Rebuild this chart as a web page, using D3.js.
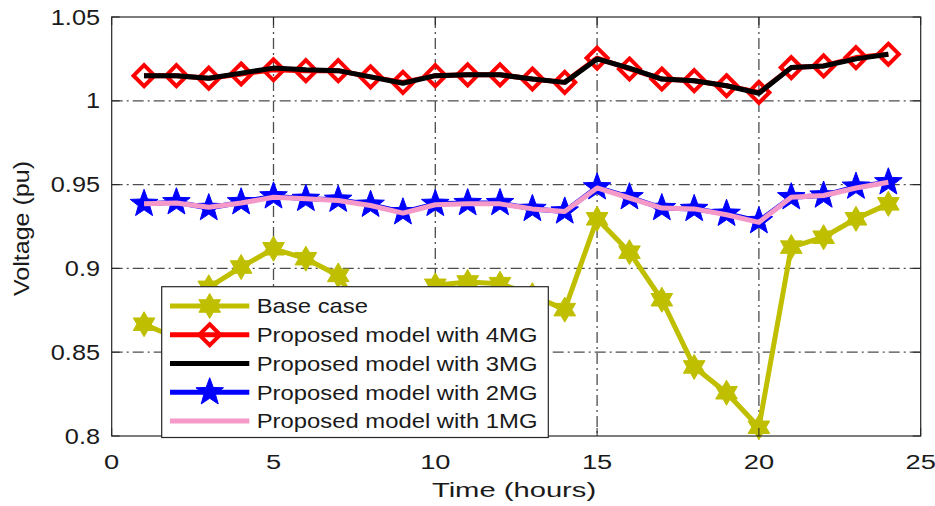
<!DOCTYPE html>
<html lang="en">
<head>
<meta charset="UTF-8">
<script src="https://d3js.org/d3.v7.min.js"></script>
<style>
    body { margin: 0; background: #fff; }
    svg { display: block; }
    text { font-family: "Liberation Sans", Arial, sans-serif; fill: #1a1a1a; }
</style>
<title>Voltage</title>
</head>
<body>
<script>
    // data
    var hours = d3.range(1, 25);
    var baseCase = [0.8667, 0.8585, 0.8887, 0.9008, 0.9117, 0.9058, 0.8958, 0.865, 0.86, 0.8899, 0.8919, 0.8909,
                    0.884, 0.8754, 0.9296, 0.9097, 0.8813, 0.8412, 0.8258, 0.8052, 0.9127, 0.9186, 0.9296, 0.9385];
    var model4MG = [1.015, 1.015, 1.0135, 1.016, 1.0185, 1.018, 1.018, 1.0143, 1.011, 1.015, 1.0155, 1.0155,
                    1.013, 1.011, 1.0255, 1.019, 1.013, 1.012, 1.009, 1.005, 1.0198, 1.0208, 1.0258, 1.0278];
    var model3MG = [1.015, 1.015, 1.0135, 1.0165, 1.0195, 1.0185, 1.018, 1.0143, 1.0105, 1.015, 1.0155, 1.0155,
                    1.013, 1.011, 1.025, 1.0195, 1.013, 1.012, 1.009, 1.0045, 1.0198, 1.0208, 1.025, 1.0278];
    var model2MG = [0.9385, 0.9395, 0.936, 0.9395, 0.943, 0.9415, 0.941, 0.938, 0.9335, 0.9385, 0.939, 0.939,
                    0.9355, 0.934, 0.9484, 0.9425, 0.936, 0.9355, 0.9326, 0.9282, 0.9425, 0.9435, 0.9488, 0.9514];
    var model1MG = [0.9385, 0.939, 0.9365, 0.939, 0.9425, 0.9415, 0.9405, 0.9375, 0.933, 0.938, 0.9385, 0.9385,
                    0.9355, 0.934, 0.948, 0.942, 0.936, 0.9355, 0.932, 0.9275, 0.9425, 0.9435, 0.948, 0.9514];
    var xTicks = [0, 5, 10, 15, 20, 25];
    var yTicks = [0.8, 0.85, 0.9, 0.95, 1, 1.05];
    var seriesNames = ["Base case", "Proposed model with 4MG", "Proposed model with 3MG",
                       "Proposed model with 2MG", "Proposed model with 1MG"];

    var width = 935, height = 506;
    var plotL = 111.7, plotR = 920.7, plotT = 17, plotB = 436;

    var svg = d3.select("body").append("svg")
        .attr("width", width)
        .attr("height", height);

    var x = d3.scaleLinear().domain([0, 25]).range([plotL, plotR]);
    var y = d3.scaleLinear().domain([0.8, 1.05]).range([plotB, plotT]);

    // star shaped path, points = number of spikes
    function starPath(points, rOut, rIn) {
        var p = d3.path();
        for (var i = 0; i < points * 2; i++) {
            var r = i % 2 === 0 ? rOut : rIn;
            var a = -Math.PI / 2 + i * Math.PI / points;
            if (i === 0) p.moveTo(r * Math.cos(a), r * Math.sin(a));
            else p.lineTo(r * Math.cos(a), r * Math.sin(a));
        }
        p.closePath();
        return p.toString();
    }
    function diamondPath(r) {
        return "M0," + (-r) + "L" + r + ",0L0," + r + "L" + (-r) + ",0Z";
    }

    var series = [
        { name: seriesNames[0], values: baseCase, color: "#bfbf00", width: 5, marker: starPath(6, 12.5, 7.2), fill: "#bfbf00", stroke: "#bfbf00", mw: 1 },
        { name: seriesNames[1], values: model4MG, color: "#ff0000", width: 5, marker: diamondPath(10.5), fill: "none", stroke: "#ff0000", mw: 4 },
        { name: seriesNames[2], values: model3MG, color: "#000000", width: 5, marker: null },
        { name: seriesNames[3], values: model2MG, color: "#0000ff", width: 5, marker: starPath(5, 14.5, 6), fill: "#0000ff", stroke: "#0000ff", mw: 1 },
        { name: seriesNames[4], values: model1MG, color: "#f59ac8", width: 5, marker: null }
    ];

    // grid
    var grid = svg.append("g");
    grid.selectAll(".gx")
        .data(xTicks.slice(1, -1))
        .enter().append("line")
        .attr("x1", function (d) { return x(d); })
        .attr("x2", function (d) { return x(d); })
        .attr("y1", plotT).attr("y2", plotB)
        .attr("stroke", "#4d4d4d").attr("stroke-width", 1.3)
        .attr("stroke-dasharray", "11,4,2,4");
    grid.selectAll(".gy")
        .data(yTicks.slice(1, -1))
        .enter().append("line")
        .attr("y1", function (d) { return y(d); })
        .attr("y2", function (d) { return y(d); })
        .attr("x1", plotL).attr("x2", plotR)
        .attr("stroke", "#4d4d4d").attr("stroke-width", 1.3)
        .attr("stroke-dasharray", "11,4,2,4");

    // lines and markers
    var line = d3.line()
        .x(function (d, i) { return x(hours[i]); })
        .y(function (d) { return y(d); });

    series.forEach(function (s) {
        svg.append("path")
            .attr("d", line(s.values))
            .attr("fill", "none")
            .attr("stroke", s.color)
            .attr("stroke-width", s.width)
            .attr("stroke-linejoin", "round");
        if (s.marker) {
            svg.append("g").selectAll("path")
                .data(s.values)
                .enter().append("path")
                .attr("d", s.marker)
                .attr("transform", function (d, i) { return "translate(" + x(hours[i]) + "," + y(d) + ")"; })
                .attr("fill", s.fill)
                .attr("stroke", s.stroke)
                .attr("stroke-width", s.mw)
                .attr("stroke-linejoin", "miter");
        }
    });

    // frame and inner ticks
    svg.append("rect")
        .attr("x", plotL).attr("y", plotT)
        .attr("width", plotR - plotL).attr("height", plotB - plotT)
        .attr("fill", "none").attr("stroke", "#262626").attr("stroke-width", 1.2);

    var ticks = svg.append("g").attr("stroke", "#262626").attr("stroke-width", 1);
    xTicks.forEach(function (t) {
        ticks.append("line").attr("x1", x(t)).attr("x2", x(t)).attr("y1", plotB).attr("y2", plotB - 8);
        ticks.append("line").attr("x1", x(t)).attr("x2", x(t)).attr("y1", plotT).attr("y2", plotT + 8);
    });
    yTicks.forEach(function (t) {
        ticks.append("line").attr("y1", y(t)).attr("y2", y(t)).attr("x1", plotL).attr("x2", plotL + 8);
        ticks.append("line").attr("y1", y(t)).attr("y2", y(t)).attr("x1", plotR).attr("x2", plotR - 8);
    });

    // text with horizontal stretch to match the wide lettering
    function label(parent, tx, ty, str, size, sx, anchor, rotate) {
        return parent.append("text")
            .attr("transform", "translate(" + tx + "," + ty + ")" + (rotate ? " rotate(" + rotate + ")" : "") + " scale(" + sx + ",1)")
            .attr("font-size", size)
            .attr("text-anchor", anchor)
            .text(str);
    }

    yTicks.forEach(function (t) {
        label(svg, 100, y(t) + 7.5, d3.format("")(t), 22, 1.15, "end");
    });
    xTicks.forEach(function (t) {
        label(svg, x(t), 469, t, 21, 1.3, "middle");
    });
    label(svg, 514, 497, "Time (hours)", 21, 1.39, "middle");
    label(svg, 29, (plotT + plotB) / 2 + 2, "Voltage (pu)", 22, 1.14, "middle", -90);

    // legend
    var legend = svg.append("g");
    legend.append("rect")
        .attr("x", 161.7).attr("y", 286.7)
        .attr("width", 386.6).attr("height", 150.8)
        .attr("fill", "#fff").attr("stroke", "#262626").attr("stroke-width", 1.2);

    series.forEach(function (s, i) {
        var cy = 306 + i * 28.75;
        legend.append("line")
            .attr("x1", 170).attr("x2", 249.3)
            .attr("y1", cy).attr("y2", cy)
            .attr("stroke", s.color).attr("stroke-width", s.width);
        if (s.marker) {
            legend.append("path")
                .attr("d", s.marker)
                .attr("transform", "translate(209.7," + cy + ")")
                .attr("fill", s.fill)
                .attr("stroke", s.stroke)
                .attr("stroke-width", s.mw);
        }
        label(legend, 256.7, cy + 7.3, s.name, 20.5, 1.163, "start");
    });
</script>
</body>
</html>
